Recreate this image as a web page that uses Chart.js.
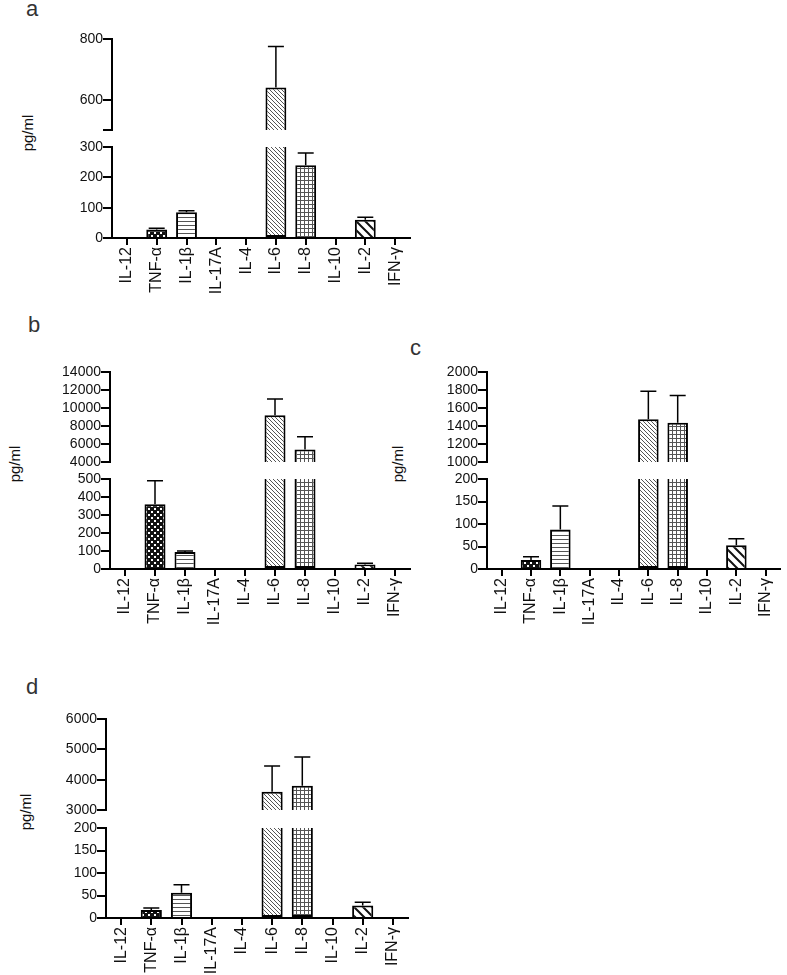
<!DOCTYPE html>
<html>
<head>
<meta charset="utf-8">
<script src="https://cdn.jsdelivr.net/npm/chart.js@4"></script>
<style>
    body { margin: 0; background: #fff; width: 787px; height: 975px; position: relative; overflow: hidden;
           font-family: "Liberation Sans", Arial, sans-serif; }
    .panel { position: absolute; }
    .letter { position: absolute; font-size: 22px; line-height: 22px; color: #333; }
    .ytitle { position: absolute; font-size: 15px; line-height: 15px; color: #111; white-space: nowrap;
              transform: translate(-50%, -50%) rotate(-90deg); }
</style>
</head>
<body>
<div class="letter" style="left:26px;top:-2px">a</div>
<div class="letter" style="left:28px;top:314px">b</div>
<div class="letter" style="left:410px;top:337px">c</div>
<div class="letter" style="left:26px;top:676px">d</div>

<div class="ytitle" style="left:27px;top:133px">pg/ml</div>
<div class="ytitle" style="left:14px;top:464px">pg/ml</div>
<div class="ytitle" style="left:397px;top:464px">pg/ml</div>
<div class="ytitle" style="left:25px;top:812px">pg/ml</div>

<div class="panel" style="left:0;top:0"><canvas id="chartA" width="420" height="310"></canvas></div>
<div class="panel" style="left:0;top:330px"><canvas id="chartB" width="420" height="310"></canvas></div>
<div class="panel" style="left:400px;top:330px"><canvas id="chartC" width="387" height="310"></canvas></div>
<div class="panel" style="left:0;top:670px"><canvas id="chartD" width="420" height="305"></canvas></div>

<script>
const cytokines = ["IL-12", "TNF-α", "IL-1β", "IL-17A", "IL-4", "IL-6", "IL-8", "IL-10", "IL-2", "IFN-γ"];

// panel a
const valuesA = [0, 28, 85, 0, 0, 640, 240, 0, 60, 0];
const upperA = [0, 32, 90, 0, 0, 775, 280, 0, 68, 0];
const lowTicksA = [0, 100, 200, 300];
const highTicksA = [500, 600, 800];
const highLabelsA = ["", "600", "800"];

// panel b
const valuesB = [0, 360, 95, 0, 0, 9200, 5400, 0, 25, 0];
const upperB = [0, 490, 100, 0, 0, 11000, 6800, 0, 32, 0];
const lowTicksB = [0, 100, 200, 300, 400, 500];
const highTicksB = [4000, 6000, 8000, 10000, 12000, 14000];

// panel c
const valuesC = [0, 20, 88, 0, 0, 1475, 1435, 0, 53, 0];
const upperC = [0, 27, 140, 0, 0, 1785, 1740, 0, 67, 0];
const lowTicksC = [0, 50, 100, 150, 200];
const highTicksC = [1000, 1200, 1400, 1600, 1800, 2000];

// panel d
const valuesD = [0, 18, 56, 0, 0, 3600, 3800, 0, 28, 0];
const upperD = [0, 22, 74, 0, 0, 4450, 4750, 0, 35, 0];
const lowTicksD = [0, 50, 100, 150, 200];
const highTicksD = [3000, 4000, 5000, 6000];

Chart.defaults.font.family = "'Liberation Sans', Arial, sans-serif";

// fill style for each cytokine bar
const fillKinds = ["none", "dots", "hlines", "none", "none", "diag", "grid", "none", "coarse", "none"];

function makePattern(kind) {
    const c = document.createElement("canvas");
    const g = c.getContext("2d");
    if (kind === "dots") {
        c.width = c.height = 6;
        g.fillStyle = "#111";
        g.fillRect(0, 0, 6, 6);
        g.fillStyle = "#fff";
        g.fillRect(1, 1, 2, 2);
        g.fillRect(4, 4, 2, 2);
    } else if (kind === "hlines") {
        c.width = c.height = 4;
        g.fillStyle = "#fff";
        g.fillRect(0, 0, 4, 4);
        g.fillStyle = "#555";
        g.fillRect(0, 1, 4, 1);
    } else if (kind === "grid") {
        c.width = c.height = 4;
        g.fillStyle = "#fff";
        g.fillRect(0, 0, 4, 4);
        g.fillStyle = "#555";
        g.fillRect(0, 0, 4, 1);
        g.fillRect(0, 0, 1, 4);
    } else if (kind === "diag" || kind === "coarse") {
        const s = kind === "diag" ? 4 : 9;
        c.width = c.height = s;
        g.fillStyle = "#fff";
        g.fillRect(0, 0, s, s);
        g.strokeStyle = kind === "diag" ? "#555" : "#111";
        g.lineWidth = kind === "diag" ? 1 : 2;
        g.beginPath();
        g.moveTo(-1, -1); g.lineTo(s + 1, s + 1);
        g.moveTo(-1, s - 1); g.lineTo(1, s + 1);
        g.moveTo(s - 1, -1); g.lineTo(s + 1, 1);
        g.stroke();
    } else {
        return "#fff";
    }
    return g.createPattern(c, "repeat");
}

const fills = fillKinds.map(makePattern);

// upper error bars, drawn against whichever y segment holds the bar top
function errorBarPlugin(values, upper, split) {
    return {
        id: "errorBars",
        afterDatasetsDraw(chart) {
            const ctx = chart.ctx;
            const x = chart.scales.x;
            ctx.save();
            ctx.strokeStyle = "#000";
            ctx.lineWidth = 1.5;
            upper.forEach((u, i) => {
                if (!u || u <= values[i]) return;
                const scale = values[i] > split ? chart.scales.yHigh : chart.scales.yLow;
                const px = x.getPixelForValue(i);
                const y0 = scale.getPixelForValue(values[i]);
                const y1 = scale.getPixelForValue(u);
                ctx.beginPath();
                ctx.moveTo(px, y0);
                ctx.lineTo(px, y1);
                ctx.moveTo(px - 8, y1);
                ctx.lineTo(px + 8, y1);
                ctx.stroke();
            });
            ctx.restore();
        }
    };
}

// outward tick marks on both segments of the y axis and on the x axis
const tickMarks = {
    id: "tickMarks",
    afterDraw(chart) {
        const ctx = chart.ctx;
        ctx.save();
        ctx.strokeStyle = "#000";
        ctx.lineWidth = 2;
        ctx.beginPath();
        ["yLow", "yHigh"].forEach(id => {
            const s = chart.scales[id];
            s.ticks.forEach(t => {
                const y = Math.round(s.getPixelForValue(t.value));
                ctx.moveTo(s.right - 9, y);
                ctx.lineTo(s.right, y);
            });
        });
        const x = chart.scales.x;
        x.ticks.forEach((t, i) => {
            const px = Math.round(x.getPixelForValue(i));
            ctx.moveTo(px, x.top);
            ctx.lineTo(px, x.top + 7);
        });
        ctx.stroke();
        ctx.restore();
    }
};

function yAxis(cfg, ticks, labels, weight) {
    return {
        type: "linear",
        position: "left",
        stack: "v",
        stackWeight: weight,
        min: ticks[0],
        max: ticks[ticks.length - 1],
        afterBuildTicks: s => { s.ticks = ticks.map(v => ({ value: v })); },
        afterFit: s => { s.width = cfg.yw; },
        ticks: {
            color: "#111",
            font: { size: 14 },
            padding: 1,
            autoSkip: false,
            callback: (v, i) => labels ? labels[i] : String(v)
        },
        grid: { drawOnChartArea: false, drawTicks: true, tickLength: 8, color: "#000", lineWidth: 2 },
        border: { color: "#000", width: 2 }
    };
}

function drawPanel(id, cfg) {
    const botMax = cfg.lowTicks[cfg.lowTicks.length - 1];
    const topMin = cfg.highTicks[0];
    const low = cfg.values.map(v => Math.min(v, botMax));
    const high = cfg.values.map(v => v > topMin ? [topMin, v] : null);

    const barStyle = {
        backgroundColor: fills,
        borderColor: "#000",
        borderWidth: 2,
        barPercentage: 0.7,
        categoryPercentage: 1,
        grouped: false
    };

    new Chart(document.getElementById(id), {
        type: "bar",
        data: {
            labels: cytokines,
            datasets: [
                Object.assign({
                    data: low,
                    yAxisID: "yLow",
                    borderSkipped: ctx => cfg.values[ctx.dataIndex] > botMax ? "top" : "start"
                }, barStyle),
                Object.assign({
                    data: high,
                    yAxisID: "yHigh",
                    borderSkipped: "start"
                }, barStyle)
            ]
        },
        options: {
            responsive: false,
            animation: false,
            layout: { padding: { top: cfg.padTop, right: cfg.padRight, left: 0, bottom: 0 } },
            plugins: { legend: { display: false }, tooltip: { enabled: false } },
            scales: {
                x: {
                    type: "category",
                    offset: true,
                    afterFit: s => { s.height = cfg.xh; },
                    ticks: { color: "#111", font: { size: 16 }, maxRotation: 90, minRotation: 90, autoSkip: false, padding: 2 },
                    grid: { offset: false, drawOnChartArea: false, drawTicks: true, tickLength: 7, color: "#000", lineWidth: 2 },
                    border: { color: "#000", width: 2 }
                },
                yLow: yAxis(cfg, cfg.lowTicks, null, cfg.lowH),
                yGap: {
                    type: "linear",
                    position: "left",
                    stack: "v",
                    stackWeight: cfg.gapH,
                    afterFit: s => { s.width = cfg.yw; },
                    ticks: { display: false },
                    grid: { display: false },
                    border: { display: false }
                },
                yHigh: yAxis(cfg, cfg.highTicks, cfg.highLabels, cfg.highH)
            }
        },
        plugins: [errorBarPlugin(cfg.values, cfg.upper, botMax), tickMarks]
    });
}

drawPanel("chartA", {
    values: valuesA, upper: upperA, lowTicks: lowTicksA, highTicks: highTicksA, highLabels: highLabelsA,
    padTop: 39, padRight: 10, yw: 112, xh: 72, lowH: 91, gapH: 17, highH: 91
});
drawPanel("chartB", {
    values: valuesB, upper: upperB, lowTicks: lowTicksB, highTicks: highTicksB,
    padTop: 42, padRight: 10, yw: 110, xh: 71, lowH: 90, gapH: 17, highH: 90
});
drawPanel("chartC", {
    values: valuesC, upper: upperC, lowTicks: lowTicksC, highTicks: highTicksC,
    padTop: 42, padRight: 2, yw: 87, xh: 71, lowH: 90, gapH: 17, highH: 90
});
drawPanel("chartD", {
    values: valuesD, upper: upperD, lowTicks: lowTicksD, highTicks: highTicksD,
    padTop: 49, padRight: 12, yw: 106, xh: 57, lowH: 90, gapH: 18, highH: 91
});
</script>
</body>
</html>
